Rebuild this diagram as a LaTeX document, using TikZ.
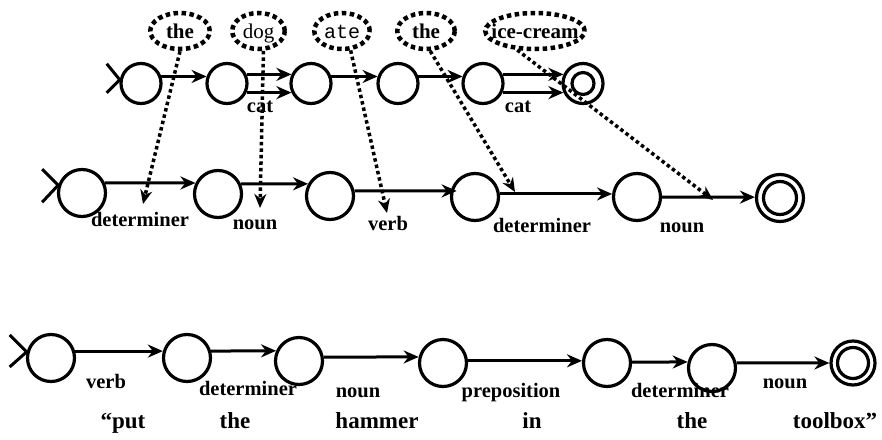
\documentclass[tikz,border=0pt]{standalone}
\usepackage{fontspec}
\setmainfont{Liberation Serif}
\newfontfamily\monofont{Liberation Mono}
\usetikzlibrary{arrows.meta,shapes.geometric}
\begin{document}
\begin{tikzpicture}[x=1pt,y=-1pt,
  st/.style={circle,draw,line width=3.2pt,inner sep=0pt,minimum size=#1},
  st/.default=47pt,
  acc/.style 2 args={st=#1,path picture={\draw[line width=3.2pt] (path picture bounding box.center) circle (#2);}},
  arr/.style={line width=3pt,-{Stealth[length=15pt,width=13pt]}},
  ptr/.style={line width=3.5pt,dash pattern=on 3.5pt off 3pt,-{Stealth[length=14pt,width=12pt]}},
  ell/.style={ellipse,draw,line width=4.5pt,dash pattern=on 4.5pt off 3.5pt,inner sep=0pt},
  lab/.style={font=\bfseries\fontsize{20.5}{22}\selectfont,anchor=base,inner sep=0pt},
  wrd/.style={font=\bfseries\fontsize{23}{25}\selectfont,anchor=base,inner sep=0pt},
  etxt/.style={font=\fontsize{21}{23}\selectfont,anchor=base,inner sep=0pt},
  stmark/.style={line width=3pt}
]
\useasboundingbox (0,0) rectangle (882,439);

% ---------- ellipses (words) ----------
\node[ell,minimum width=59.5pt,minimum height=36pt] (o1) at (180,31) {};
\node[ell,minimum width=52.5pt,minimum height=36pt] (o2) at (258.5,31) {};
\node[ell,minimum width=55.5pt,minimum height=36pt] (o3) at (342,31) {};
\node[ell,minimum width=57.5pt,minimum height=36pt] (o4) at (426,31) {};
\node[ell,minimum width=99.5pt,minimum height=36pt] (o5) at (535,31) {};
\node[etxt,font=\bfseries\fontsize{21}{23}\selectfont] (w1) at (180,38) {the};
\node[etxt] (w2) at (258.5,38) {dog};
\node[etxt,font=\monofont\fontsize{20}{22}\selectfont] (w3) at (342,38) {ate};
\node[etxt,font=\bfseries\fontsize{21}{23}\selectfont] (w4) at (426,38) {the};
\node[etxt,font=\bfseries\fontsize{21}{23}\selectfont] (w5) at (535,38) {ice-cream};

% ---------- top row ----------
\node[st=40pt] (t1) at (141,83.5) {};
\node[st=40pt] (t2) at (227,83.5) {};
\node[st=40pt] (t3) at (311,83.5) {};
\node[st=40pt] (t4) at (398,83.5) {};
\node[st=40pt] (t5) at (483,83.5) {};
\node[acc={40pt}{11pt}] (t6) at (583,83.5) {};
\draw[stmark] (t1.170) ++(-13,-16) -- (t1.170) -- ++(-13,13);
\draw[arr] (t1.19) -- (t2.161);
\draw[arr] (t2.25) -- (t3.155);
\draw[arr] (t2.-25) -- (t3.-155);
\draw[arr] (t3.19) -- (t4.161);
\draw[arr] (t4.19) -- (t5.161);
\draw[arr] (t5.25) -- (t6.155);
\draw[arr] (t5.-25) -- (t6.-155);
\node[lab] (c1) at (260,112) {cat};
\node[lab] (c2) at (518,112) {cat};

% ---------- middle row ----------
\node[st] (m1) at (82,193) {};
\node[st] (m2) at (218,194) {};
\node[st] (m3) at (330,196) {};
\node[st] (m4) at (475,197) {};
\node[st] (m5) at (637,197) {};
\node[acc={47pt}{16.5pt}] (m6) at (780,198) {};
\draw[stmark] (m1.162) ++(-16,-16) -- (m1.162) -- ++(-16,17);
\draw[arr] (m1.24) -- (m2.154);
\draw[arr] (m2.24) -- (m3.151);
\draw[arr,shorten >=-6pt] (m3.12) -- (m4.166);
\draw[arr] (m4.7) -- (m5.173);
\draw[arr] (m5.east) -- (m6.178);
\node[lab] (l1) at (140,226) {determiner};
\node[lab] (l2) at (255,229) {noun};
\node[lab] (l3) at (388,230) {verb};
\node[lab] (l4) at (542,232) {determiner};
\node[lab] (l5) at (682,232) {noun};

% ---------- dotted pointers ----------
\coordinate (d1) at (143,204);
\coordinate (d2) at (260,208);
\coordinate (d3) at (387,213);
\coordinate (d4) at (515,192);
\coordinate (d5) at (713,200);
\draw[ptr] (o1.south) -- (d1);
\draw[ptr] (o2.-76) -- (d2);
\draw[ptr] (o3.-66) -- (d3);
\draw[ptr] (o4.-78) -- (d4);
\draw[ptr] (o5.-133) -- (d5);

% ---------- bottom row ----------
\node[st] (b1) at (51,358) {};
\node[st] (b2) at (187,358) {};
\node[st] (b3) at (299,361) {};
\node[st] (b4) at (443,363) {};
\node[st] (b5) at (607,363) {};
\node[st] (b6) at (712,368) {};
\node[acc={44pt}{15.5pt}] (b7) at (853,363) {};
\draw[stmark] (b1.166) ++(-17,-17) -- (b1.166) -- ++(-17,15);
\draw[arr] (b1.16) -- (b2.164);
\draw[arr] (b2.16) -- (b3.156);
\draw[arr] (b3.9) -- (b4.166);
\draw[arr] (b4.5) -- (b5.175);
\draw[arr] (b5.2) -- (b6.166);
\draw[arr] (b6.12) -- (b7.west);
\node[lab] (n1) at (106,388) {verb};
\node[lab] (n2) at (248,395) {determiner};
\node[lab] (n3) at (358,397) {noun};
\node[lab] (n4) at (511,397) {preposition};
\node[lab] (n5) at (680,397) {determiner};
\node[lab] (n6) at (785,388) {noun};
\node[wrd] (s1) at (123,428) {“put};
\node[wrd] (s2) at (235,428) {the};
\node[wrd] (s3) at (377,428) {hammer};
\node[wrd] (s4) at (532,428) {in};
\node[wrd] (s5) at (692,428) {the};
\node[wrd] (s6) at (835,428) {toolbox”};
\end{tikzpicture}
\end{document}
